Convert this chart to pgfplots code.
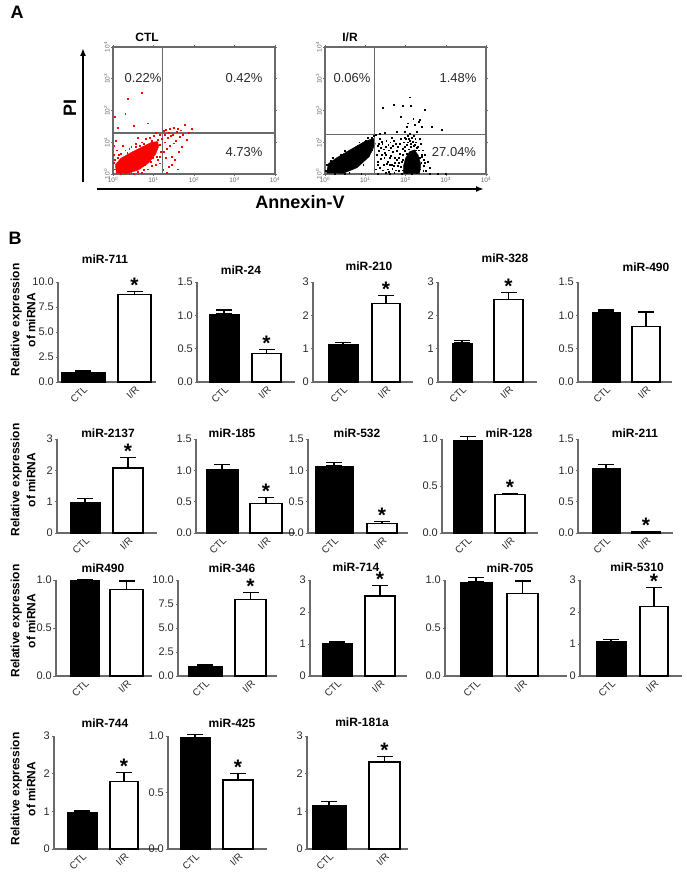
\documentclass[border=0pt]{standalone}
\usepackage{fontspec}
\setmainfont{Liberation Sans}
\usepackage{pgfplots}
\pgfplotsset{compat=1.18}
\usetikzlibrary{arrows.meta}

\definecolor{axgray}{HTML}{6A6A6A}
\definecolor{txtgray}{HTML}{2A2A2A}

\pgfplotsset{
  barax/.style={
    scale only axis, anchor=south west, clip=false,
    axis lines=left, axis line style={-, axgray, line width=1.4pt},
    ymin=0,
    tick align=outside, major tick length=2.5pt,
    ytick style={axgray, line width=0.8pt},
    xtick style={draw=none},
    xticklabels={CTL,I/R},
    xticklabel style={rotate=45, anchor=north east, font=\fontsize{10}{12}\selectfont, text=txtgray, inner sep=0.5pt},
    yticklabel style={font=\fontsize{11}{13}\selectfont, text=txtgray, inner sep=1.5pt},
  },
  scatax/.style={
    scale only axis, anchor=south west,
    xmin=0, xmax=4, ymin=0, ymax=4,
    axis line style={axgray, line width=1.1pt},
    xtick={0,1,2,3,4}, ytick={0,1,2,3,4},
    xticklabels={10\textsuperscript{0},10\textsuperscript{1},10\textsuperscript{2},10\textsuperscript{3},10\textsuperscript{4}},
    yticklabels={10\textsuperscript{0},10\textsuperscript{1},10\textsuperscript{2},10\textsuperscript{3},10\textsuperscript{4}},
    tick style={axgray, line width=0.5pt}, major tick length=2pt, tick align=outside,
    ticklabel style={font=\fontsize{6.5}{7}\selectfont, text=axgray, inner sep=1pt},
    yticklabel style={rotate=90, anchor=south},
  },
}

\newcommand{\ctlbar}[4]{%
  \addplot[ybar, bar width=#2, bar shift=0pt, fill=black, draw=black, line width=0.8pt] coordinates {(#1,#3)};
  \addplot[black, line width=1.1pt, mark=-, mark size=8pt, mark options={line width=1.1pt}] coordinates {(#1,#3) (#1,#4)};
}
\newcommand{\irbar}[4]{%
  \addplot[ybar, bar width=#2, bar shift=0pt, fill=white, draw=black, line width=1.3pt] coordinates {(#1,#3)};
  \addplot[black, line width=1.1pt, mark=-, mark size=8pt, mark options={line width=1.1pt}] coordinates {(#1,#3) (#1,#4)};
}
\newcommand{\sig}[2]{\node[font=\bfseries\fontsize{21}{21}\selectfont, anchor=base, yshift=-1pt] at (axis cs:#1,#2) {*};}

\tikzset{
  ttl/.style={font=\bfseries\fontsize{12}{14}\selectfont},
  pct/.style={font=\fontsize{13}{15}\selectfont, text=txtgray},
  ylab/.style={rotate=90, align=center, font=\bfseries\fontsize{12}{16}\selectfont},
}

\begin{document}
\begin{tikzpicture}
\path[use as bounding box] (0,0) rectangle (687pt,876pt);

% ---------------- Panel A ----------------
\node[font=\bfseries\fontsize{18}{20}\selectfont] at (17pt,864pt) {A};
\node[font=\bfseries\fontsize{18}{20}\selectfont] at (15pt,638pt) {B};

\begin{axis}[scatax, at={(113pt,702pt)}, width=162pt, height=127pt]
\addplot[red, fill=red, line width=0.4pt] coordinates {(0.08,0.03) (0.35,0.02) (0.62,0.12) (0.88,0.35) (1.05,0.62) (1.13,0.88) (1.10,1.02) (0.95,1.00) (0.72,0.85) (0.45,0.68) (0.20,0.50) (0.06,0.30) (0.08,0.03)};
\addplot[only marks, mark=square*, mark size=0.45pt, red] coordinates {
(0.37,2.36) (0.71,2.55) (0.30,1.90) (0.05,1.80) (0.50,1.52) (0.12,1.45) (0.85,1.60)
(0.15,0.60) (0.05,0.45) (0.30,0.75) (0.55,0.95) (0.80,1.10) (1.00,1.20) (1.15,1.25) (1.20,1.10) (1.18,0.70) (1.10,0.45) (0.95,0.25) (0.70,0.05) (0.40,0.00) (0.10,0.75) (0.25,0.90) (0.60,1.15) (0.02,0.60) (0.03,0.90) (0.06,1.05) (0.45,0.85) (0.75,0.95) (0.90,1.15) (1.05,1.30) (0.20,0.02) (0.85,0.15) (1.05,0.30) (1.15,0.55) (0.50,0.02) (0.65,0.20) (0.98,0.50)
(0.05,0.15) (0.12,0.50) (0.20,0.65) (0.35,0.68) (0.40,0.80) (0.55,0.85) (0.65,0.90) (0.70,1.00) (0.85,0.85) (0.95,1.05) (1.10,1.08) (1.16,0.92) (0.60,0.08) (0.75,0.14) (0.92,0.40) (1.02,0.72) (0.45,0.05) (0.30,0.00) (0.15,0.10) (0.02,0.35) (0.78,0.28) (0.99,0.85)
(1.41,1.44) (1.78,1.54) (1.94,1.44) (1.57,1.33) (1.65,1.17) (1.49,0.97) (1.33,0.81) (1.45,0.55) (1.37,0.23) (1.70,0.86) (1.82,1.07) (1.53,0.44) (1.24,0.13) (1.16,0.34) (1.08,0.55) (1.30,1.40) (1.50,1.45) (1.25,1.35) (1.60,1.42) (1.28,1.00) (1.35,1.15) (1.42,1.20) (1.55,1.05) (1.62,0.70) (1.30,0.50) (1.25,0.70) (1.40,0.90) (1.72,1.25) (1.88,1.30) (1.32,0.05) (1.60,0.15) (1.45,0.30) (1.27,1.25) (1.38,1.30) (1.48,1.25) (1.68,1.38)};
\addplot[axgray, line width=1.1pt] coordinates {(1.23,0) (1.23,4)};
\addplot[axgray, line width=1.1pt] coordinates {(0,1.29) (4,1.29)};
\end{axis}

\begin{axis}[scatax, at={(325pt,702pt)}, width=161pt, height=127pt]
\addplot[black, fill=black, line width=0.4pt] coordinates {(0.04,0.03) (0.45,0.02) (0.80,0.20) (1.10,0.55) (1.25,0.95) (1.20,1.12) (0.98,1.02) (0.65,0.78) (0.30,0.52) (0.08,0.32) (0.04,0.03)};
\addplot[black, fill=black, line width=0.4pt] coordinates {(1.95,0.02) (2.35,0.02) (2.38,0.30) (2.32,0.58) (2.22,0.76) (2.10,0.70) (2.00,0.50) (1.95,0.25) (1.95,0.02)};
\addplot[only marks, mark=square*, mark size=0.45pt, black] coordinates {
(1.43,2.09) (1.70,2.19) (1.93,2.14) (2.11,2.42) (2.14,2.14) (2.47,2.02) (1.89,1.81) (2.19,1.75) (2.32,1.65) (2.40,1.49) (2.03,1.49) (2.65,1.49) (2.90,1.39) (2.28,1.33) (2.11,1.28) (1.78,1.33) (1.49,1.30) (1.37,1.26) (2.22,1.54) (2.05,1.60) (2.36,1.70) (1.99,1.33)
(1.30,0.90) (1.35,1.10) (1.40,0.60) (1.45,0.30) (1.50,0.85) (1.55,0.15) (1.60,0.50) (1.62,1.00) (1.68,0.70) (1.70,0.25) (1.75,0.95) (1.78,0.45) (1.82,0.10) (1.85,0.65) (1.88,1.10) (1.50,0.05) (1.30,0.40) (1.42,0.95) (1.58,0.75) (1.72,0.05) (1.36,0.20) (1.65,1.15) (1.80,0.85) (1.90,0.40) (1.28,0.60) (1.52,1.05) (1.47,0.50) (1.66,0.30)
(1.27,0.15) (1.33,0.72) (1.38,0.48) (1.41,1.02) (1.44,0.12) (1.48,0.68) (1.53,0.32) (1.57,0.92) (1.59,0.08) (1.63,0.58) (1.67,0.18) (1.69,0.88) (1.73,0.52) (1.76,0.12) (1.79,0.72) (1.83,0.35) (1.86,0.95) (1.89,0.22) (1.34,0.95) (1.46,0.78) (1.56,0.40) (1.64,0.82) (1.74,0.35) (1.84,0.50) (1.31,0.28) (1.39,0.82) (1.51,0.62) (1.61,0.28) (1.71,1.05) (1.81,0.25)
(1.92,0.80) (1.95,1.00) (2.00,1.10) (2.10,1.05) (2.25,1.00) (2.30,0.85) (2.40,0.55) (2.45,0.25) (2.50,0.10) (2.42,0.75) (2.15,1.15) (2.05,1.20) (2.35,1.10) (2.55,0.40) (1.97,1.15) (2.60,0.20) (2.20,1.20) (2.48,0.60) (1.93,0.60) (2.38,0.95) (2.12,0.95) (2.45,0.45)
(1.92,0.12) (1.94,0.45) (1.97,0.72) (1.99,0.25) (2.02,0.92) (2.04,0.65) (2.06,1.00) (2.09,0.78) (2.12,0.86) (2.14,0.70) (2.17,1.02) (2.20,0.88) (2.23,0.92) (2.26,0.75) (2.29,0.62) (2.31,0.42) (2.33,0.75) (2.36,0.15) (2.39,0.35) (2.41,0.60) (2.44,0.10) (2.47,0.35) (2.03,0.05) (2.16,0.02) (2.28,0.05) (1.98,0.85) (2.08,1.12) (2.24,1.10) (2.35,0.50) (2.27,0.82)
(0.05,0.30) (0.20,0.50) (0.50,0.72) (0.80,0.90) (1.00,1.05) (1.15,1.15) (1.20,1.20) (1.10,0.70) (0.90,0.35) (0.60,0.05) (0.30,0.10) (0.02,0.10) (0.25,0.00) (1.25,1.25) (1.18,1.05) (0.70,0.30) (0.40,0.62) (0.85,1.00) (1.05,1.15) (0.15,0.42) (1.15,0.75) (0.95,0.30)
(0.50,0.01) (0.90,0.01) (1.30,0.01) (1.60,0.01) (1.90,0.01) (2.60,0.01) (2.80,0.01) (3.00,0.01)};
\addplot[axgray, line width=1.1pt] coordinates {(1.24,0) (1.24,4)};
\addplot[axgray, line width=1.1pt] coordinates {(0,1.23) (4,1.23)};
\end{axis}

\node[font=\bfseries\fontsize{12}{14}\selectfont] at (147pt,839pt) {CTL};
\node[font=\bfseries\fontsize{12}{14}\selectfont] at (350pt,839pt) {I/R};
\node[pct] at (143pt,798pt) {0.22\%};
\node[pct] at (244pt,798pt) {0.42\%};
\node[pct] at (244pt,724pt) {4.73\%};
\node[pct] at (352pt,798pt) {0.06\%};
\node[pct] at (458pt,798pt) {1.48\%};
\node[pct] at (454pt,724pt) {27.04\%};
\draw[line width=2pt, -{Latex[length=8pt,width=6pt]}] (97pt,687pt) -- (484pt,687pt);
\draw[line width=2pt, -{Latex[length=8pt,width=6pt]}] (83pt,694pt) -- (83pt,828pt);
\node[font=\bfseries\fontsize{18}{20}\selectfont] at (300pt,674pt) {Annexin-V};
\node[font=\bfseries\fontsize{18}{20}\selectfont, rotate=90] at (70pt,768pt) {PI};

% ---------------- Panel B : row 1 ----------------
\node[ylab] at (23pt,556pt) {Relative expression\\of miRNA};
\begin{axis}[barax, at={(58pt,494pt)}, width=98pt, height=100pt, xmin=58, xmax=156, ymax=10,
  ytick={0,2.5,5,7.5,10}, yticklabels={0.0,2.5,5.0,7.5,10.0}, xtick={83,134.5}]
\ctlbar{83}{44}{1.0}{1.12}
\irbar{134.5}{33}{8.75}{9.05}
\sig{134.5}{9.05}
\end{axis}
\node[ttl] at (105pt,617pt) {miR-711};

\begin{axis}[barax, at={(197pt,494pt)}, width=98pt, height=100pt, xmin=197, xmax=295, ymax=1.5,
  ytick={0,0.5,1,1.5}, yticklabels={0.0,0.5,1.0,1.5}, xtick={224,266.5}]
\ctlbar{224}{30}{1.02}{1.08}
\irbar{266.5}{29}{0.43}{0.49}
\sig{266.5}{0.49}
\end{axis}
\node[ttl] at (241pt,606pt) {miR-24};

\begin{axis}[barax, at={(313pt,494pt)}, width=100pt, height=100pt, xmin=313, xmax=413, ymax=3,
  ytick={0,1,2,3}, yticklabels={0,1,2,3}, xtick={343,386}]
\ctlbar{343}{30}{1.12}{1.18}
\irbar{386}{28}{2.35}{2.6}
\sig{386}{2.6}
\end{axis}
\node[ttl] at (369pt,610pt) {miR-210};

\begin{axis}[barax, at={(438pt,494pt)}, width=99pt, height=100pt, xmin=438, xmax=537, ymax=3,
  ytick={0,1,2,3}, yticklabels={0,1,2,3}, xtick={462,508.5}]
\ctlbar{462}{20}{1.17}{1.25}
\irbar{508.5}{29}{2.48}{2.68}
\sig{508.5}{2.68}
\end{axis}
\node[ttl] at (505pt,618pt) {miR-328};

\begin{axis}[barax, at={(578pt,494pt)}, width=94pt, height=100pt, xmin=578, xmax=672, ymax=1.5,
  ytick={0,0.5,1,1.5}, yticklabels={0.0,0.5,1.0,1.5}, xtick={606,646}]
\ctlbar{606}{28}{1.05}{1.08}
\irbar{646}{28}{0.83}{1.05}
\end{axis}
\node[ttl] at (646pt,609pt) {miR-490};

% ---------------- row 2 ----------------
\node[ylab] at (23pt,396pt) {Relative expression\\of miRNA};
\begin{axis}[barax, at={(57pt,343pt)}, width=100pt, height=94pt, xmin=57, xmax=157, ymax=3,
  ytick={0,1,2,3}, yticklabels={0,1,2,3}, xtick={85,128}]
\ctlbar{85}{30}{0.97}{1.11}
\irbar{128}{30}{2.07}{2.42}
\sig{128}{2.42}
\end{axis}
\node[ttl] at (108pt,443pt) {miR-2137};

\begin{axis}[barax, at={(196pt,343pt)}, width=99pt, height=94pt, xmin=196, xmax=295, ymax=1.5,
  ytick={0,0.5,1,1.5}, yticklabels={0.0,0.5,1.0,1.5}, xtick={222,266}]
\ctlbar{222}{32}{1.02}{1.09}
\irbar{266}{32}{0.47}{0.56}
\sig{266}{0.56}
\end{axis}
\node[ttl] at (232pt,443pt) {miR-185};

\begin{axis}[barax, at={(308pt,343pt)}, width=100pt, height=94pt, xmin=308, xmax=408, ymax=1.5,
  ytick={0,0.5,1,1.5}, yticklabels={0.0,0.5,1.0,1.5}, xtick={334,382}]
\ctlbar{334}{38}{1.07}{1.12}
\irbar{382}{30}{0.15}{0.18}
\sig{382}{0.18}
\end{axis}
\node[ttl] at (357pt,443pt) {miR-532};

\begin{axis}[barax, at={(442pt,343pt)}, width=96pt, height=94pt, xmin=442, xmax=538, ymax=1,
  ytick={0,0.5,1}, yticklabels={0.0,0.5,1.0}, xtick={467.5,510}]
\ctlbar{467.5}{29}{0.98}{1.03}
\irbar{510}{30}{0.41}{0.42}
\sig{510}{0.42}
\end{axis}
\node[ttl] at (509pt,443pt) {miR-128};

\begin{axis}[barax, at={(578pt,343pt)}, width=95pt, height=94pt, xmin=578, xmax=673, ymax=1.5,
  ytick={0,0.5,1,1.5}, yticklabels={0.0,0.5,1.0,1.5}, xtick={606,646}]
\ctlbar{606}{28}{1.03}{1.10}
\irbar{646}{28}{0.025}{0.03}
\sig{646}{0.03}
\end{axis}
\node[ttl] at (635pt,443pt) {miR-211};

% ---------------- row 3 ----------------
\node[ylab] at (23pt,255pt) {Relative expression\\of miRNA};
\begin{axis}[barax, at={(56pt,200pt)}, width=96pt, height=96pt, xmin=56, xmax=152, ymax=1,
  ytick={0,0.5,1}, yticklabels={0.0,0.5,1.0}, xtick={84.5,126.5}]
\ctlbar{84.5}{29}{1.0}{1.0}
\irbar{126.5}{33}{0.90}{0.99}
\end{axis}
\node[ttl] at (103pt,308pt) {miR490};

\begin{axis}[barax, at={(178pt,200pt)}, width=99pt, height=96pt, xmin=178, xmax=277, ymax=10,
  ytick={0,2.5,5,7.5,10}, yticklabels={0.0,2.5,5.0,7.5,10.0}, xtick={205,250.5}]
\ctlbar{205}{34}{1.05}{1.15}
\irbar{250.5}{31}{8.0}{8.7}
\sig{250.5}{8.7}
\end{axis}
\node[ttl] at (232pt,308pt) {miR-346};

\begin{axis}[barax, at={(310pt,200pt)}, width=97pt, height=96pt, xmin=310, xmax=407, ymax=3,
  ytick={0,1,2,3}, yticklabels={0,1,2,3}, xtick={337,380}]
\ctlbar{337}{30}{1.03}{1.07}
\irbar{380}{30}{2.5}{2.82}
\sig{380}{2.82}
\end{axis}
\node[ttl] at (356pt,309pt) {miR-714};

\begin{axis}[barax, at={(445pt,200pt)}, width=122pt, height=96pt, xmin=445, xmax=567, ymax=1,
  ytick={0,0.5,1}, yticklabels={0.0,0.5,1.0}, xtick={476,522.5}]
\ctlbar{476}{32}{0.98}{1.03}
\irbar{522.5}{31}{0.86}{0.99}
\end{axis}
\node[ttl] at (510pt,308pt) {miR-705};

\begin{axis}[barax, at={(580pt,200pt)}, width=102pt, height=96pt, xmin=580, xmax=682, ymax=3,
  ytick={0,1,2,3}, yticklabels={0,1,2,3}, xtick={611,654}]
\ctlbar{611}{30}{1.08}{1.15}
\irbar{654}{28}{2.18}{2.77}
\sig{654}{2.77}
\end{axis}
\node[ttl] at (637pt,309pt) {miR-5310};

% ---------------- row 4 ----------------
\node[ylab] at (23pt,87pt) {Relative expression\\of miRNA};
\begin{axis}[barax, at={(54pt,27pt)}, width=104pt, height=113pt, xmin=54, xmax=158, ymax=3,
  ytick={0,1,2,3}, yticklabels={0,1,2,3}, xtick={82,124}]
\ctlbar{82}{30}{0.97}{1.01}
\irbar{124}{28}{1.80}{2.02}
\sig{124}{2.02}
\end{axis}
\node[ttl] at (105pt,153pt) {miR-744};

\begin{axis}[barax, at={(168pt,27pt)}, width=99pt, height=113pt, xmin=168, xmax=267, ymax=1,
  ytick={0,0.5,1}, yticklabels={0.0,0.5,1.0}, xtick={195,238}]
\ctlbar{195}{30}{0.99}{1.01}
\irbar{238}{30}{0.61}{0.67}
\sig{238}{0.67}
\end{axis}
\node[ttl] at (232pt,153pt) {miR-425};

\begin{axis}[barax, at={(307pt,27pt)}, width=101pt, height=113pt, xmin=307, xmax=408, ymax=3,
  ytick={0,1,2,3}, yticklabels={0,1,2,3}, xtick={329,384.5}]
\ctlbar{329}{34}{1.15}{1.25}
\irbar{384.5}{31}{2.31}{2.46}
\sig{384.5}{2.46}
\end{axis}
\node[ttl] at (362pt,154pt) {miR-181a};

\end{tikzpicture}
\end{document}
